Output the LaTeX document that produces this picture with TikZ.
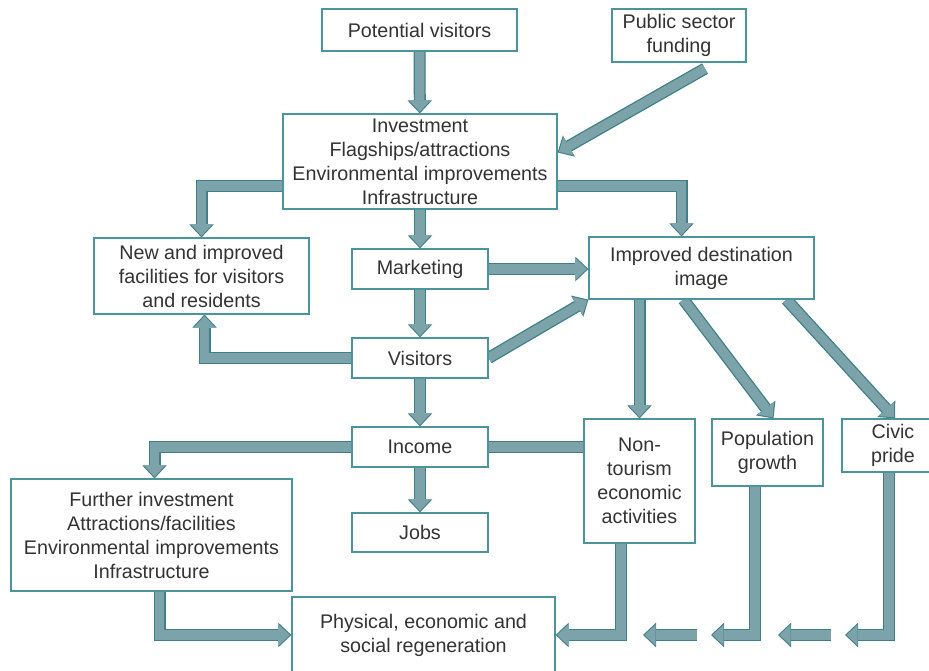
\documentclass[tikz,border=0pt]{standalone}
\usepackage{fontspec}
\setmainfont{Liberation Sans}
\usetikzlibrary{arrows.meta,calc,backgrounds}
\definecolor{boxline}{HTML}{4A949C}
\definecolor{arrowfill}{HTML}{7CA3A9}
\definecolor{arrowedge}{HTML}{3F7F87}
\definecolor{textgray}{HTML}{333333}
\tikzset{
    flow/.style={draw=arrowfill, line width=9.4pt,
        -{Triangle[width=21pt,length=11.2pt,line width=0pt]}, shorten >=1.5pt,
        preaction={draw=arrowedge, line width=12pt,
            -{Triangle[width=24.5pt,length=13pt,line width=0pt]}, shorten >=0pt}},
    band/.style={draw=arrowfill, line width=9.4pt,
        preaction={draw=arrowedge, line width=12pt}}
}

\begin{document}
\begin{tikzpicture}[
  x=1pt, y=-1pt,
  stage/.style={draw=boxline, line width=1.2pt, fill=white, text=textgray,
    align=center, inner sep=0pt, font=\fontsize{19.7}{24}\selectfont}
]
\useasboundingbox (0,0) rectangle (929,671);

% Nodes
\node[stage, minimum width=195pt, minimum height=42pt] (pot) at (419.5,30) {Potential visitors};
\node[stage, minimum width=134pt, minimum height=53pt] (pub) at (679,35.5) {Public sector\\funding};
\node[stage, minimum width=274pt, minimum height=95pt] (inv) at (420,161.5)
  {Investment\\Flagships/attractions\\Environmental improvements\\Infrastructure};
\node[stage, minimum width=215pt, minimum height=76pt] (new) at (201.5,276)
  {New and improved\\facilities for visitors\\and residents};
\node[stage, minimum width=136pt, minimum height=40pt] (mkt) at (420,269) {Marketing};
\node[stage, minimum width=225pt, minimum height=62pt] (dest) at (701.5,268)
  {Improved destination\\image};
\node[stage, minimum width=136pt, minimum height=40pt] (vis) at (420,358) {Visitors};
\node[stage, minimum width=136pt, minimum height=40pt] (inc) at (420,447) {Income};
\node[stage, minimum width=136pt, minimum height=39pt] (jobs) at (420,532.5) {Jobs};
\node[stage, minimum width=111pt, minimum height=124pt] (non) at (639.5,481)
  {Non-\\tourism\\economic\\activities};
\node[stage, minimum width=111pt, minimum height=67pt] (pop) at (767.5,452.5)
  {Population\\growth};
\node[stage, minimum width=102pt, minimum height=53pt] (civ) at (893,445.5) {Civic\\pride};
\node[stage, minimum width=281pt, minimum height=112pt] (fur) at (151.5,535)
  {Further investment\\Attractions/facilities\\Environmental improvements\\Infrastructure};
\node[stage, minimum width=263pt, minimum height=76pt] (phys) at (423.5,635)
  {Physical, economic and\\social regeneration};

% Free ends of the short arrows along the bottom
\coordinate (popend) at (711,635);
\coordinate (civend) at (845,635);
\coordinate (gapa) at (697,635);
\coordinate (gapb) at (643,635);
\coordinate (gapc) at (831,635);
\coordinate (gapd) at (778,635);

% Paths
\begin{scope}[on background layer]
\fill[white] (0,0) rectangle (929,671);
\draw[flow] (pot) -- (inv);
\draw[flow] ($(pub.south)+(26,6)$) -- ($(inv.east)+(0,-9)$);
\draw[flow] ($(inv.east)+(0,24.5)$) -| ($(dest.north)+(-20,0)$);
\draw[flow] ($(inv.west)+(0,24.5)$) -| (new.north);
\draw[flow] (inv) -- (mkt);
\draw[flow] (mkt) -- (vis);
\draw[flow] (mkt.east) -- (dest.west |- mkt.east);
\draw[flow] (vis.east) -- (dest.south west);
\draw[flow] (vis.west) -| ($(new.south)+(3,0)$);
\draw[flow] (vis) -- (inc);
\draw[flow] (inc) -- (jobs);
\draw[flow] (inc.west) -| ($(fur.north)+(3,0)$);
\draw[band] (inc.east) -- (non.west |- inc.east);
\draw[flow] (non.north |- dest.south) -- (non.north);
\draw[flow] ($(dest.south)+(-18,0)$) -- ($(pop.north)+(6,0)$);
\draw[flow] ($(dest.south)+(85,0)$) -- ($(civ.north)+(2,0)$);
\draw[flow] ($(fur.south)+(8,0)$) |- (phys.west);
\draw[flow] ($(non.south)+(-18.5,0)$) |- (phys.east);
\draw[flow] ($(pop.south)+(-12.5,0)$) |- (popend);
\draw[flow] ($(civ.south)+(-4,0)$) |- (civend);
\draw[flow] (gapa) -- (gapb);
\draw[flow] (gapc) -- (gapd);
\end{scope}

\end{tikzpicture}
\end{document}
